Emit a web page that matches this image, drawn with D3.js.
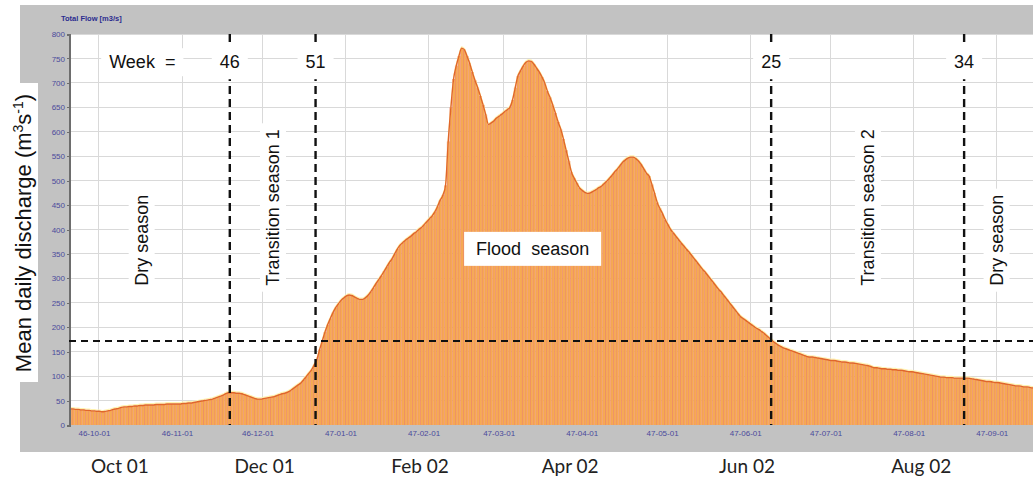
<!DOCTYPE html>
<meta charset="utf-8">
<style>
body { margin: 0; background: #fff; }
svg { display: block; font-family: "Liberation Sans", Arial, sans-serif; }
.axis text { font: 8px "Liberation Sans", sans-serif; fill: #4a4a9c; }
.axis path, .axis line { stroke: #6d6d6d; shape-rendering: crispEdges; }
.grid line { stroke: #d9d9d9; shape-rendering: crispEdges; }
.note { font-size: 18px; fill: #111; }
.month { font: 19px Lato, "Open Sans", sans-serif; fill: #222; }
</style>
<body>
<script src="https://cdn.jsdelivr.net/npm/d3@7"></script>
<script>
// daily mean flow, first value is 1946-09-20
var startDate = "1946-09-20";
var flow = [
  33,33,32,32,31,31,30,30,29,29,
  28,28,27,28,29,30,32,33,34,36,
  37,37,38,38,39,39,40,40,41,41,
  41,41,42,42,42,42,43,43,43,43,
  43,43,44,44,45,45,46,47,48,49,
  50,51,52,53,55,57,59,61,64,66,
  66,66,65,65,64,62,60,58,56,54,
  53,53,54,55,56,57,58,60,62,64,
  65,67,70,74,78,82,86,92,99,106,
  113,123,134,154,172,190,205,218,230,240,
  248,255,260,264,266,265,262,259,257,257,
  260,265,272,280,289,297,305,314,323,332,
  340,350,360,368,373,378,382,386,391,395,
  400,404,410,416,422,428,436,447,460,470,
  490,580,650,708,735,755,771,768,755,740,
  722,705,690,673,655,635,615,618,622,628,
  632,636,641,645,650,665,690,714,725,735,
  742,745,744,738,730,722,712,700,683,670,
  655,638,620,605,585,562,540,517,505,495,
  485,480,476,474,475,478,481,485,488,493,
  498,504,510,517,523,530,537,542,546,548,
  548,545,540,533,524,515,509,492,474,455,
  443,432,420,410,400,393,386,379,372,366,
  359,353,346,339,332,325,318,312,305,298,
  291,284,277,271,264,257,250,243,236,229,
  222,218,214,210,206,202,198,195,191,187,
  182,177,172,168,164,161,158,156,154,152,
  150,148,146,144,142,140,139,139,138,137,
  136,135,134,133,132,132,131,130,129,129,
  128,127,127,126,125,124,123,122,121,119,
  117,117,116,115,115,114,114,113,113,112,
  112,111,110,109,109,108,107,106,105,104,
  103,102,101,100,99,98,98,97,97,97,
  96,96,96,96,96,96,95,94,93,92,
  91,90,89,89,88,87,87,86,85,84,
  83,82,81,80,80,79,78,78,77,76,76
];

var yTicks = [0, 50, 100, 150, 200, 250, 300, 350, 400, 450, 500, 550, 600, 650, 700, 750, 800];
var monthTicks = ["1946-10-01", "1946-11-01", "1946-12-01", "1947-01-01", "1947-02-01", "1947-03-01",
                  "1947-04-01", "1947-05-01", "1947-06-01", "1947-07-01", "1947-08-01", "1947-09-01"];
var weekLines = [
  {week: "46", date: "1946-11-19"},
  {week: "51", date: "1946-12-21"},
  {week: "25", date: "1947-06-09"},
  {week: "34", date: "1947-08-20"}
];
var threshold = 172;
var seasons = [
  {label: "Dry season", date: "1946-10-17"},
  {label: "Transition season 1", date: "1946-12-05"},
  {label: "Transition season 2", date: "1947-07-15"},
  {label: "Dry season", date: "1947-09-01"}
];
var flood = {label: "Flood\u00a0 season", date: "1947-03-12", value: 361};
var monthLabels = [
  {label: "Oct 01", date: "1946-10-09"},
  {label: "Dec 01", date: "1946-12-02"},
  {label: "Feb 02", date: "1947-01-29"},
  {label: "Apr 02", date: "1947-03-26"},
  {label: "Jun 02", date: "1947-05-31"},
  {label: "Aug 02", date: "1947-08-04"}
];

var W = 1033, H = 481;
var pLeft = 69, pTop = 34, pBottom = 425;
var dayW = 2.68;
var parse = d3.utcParse("%Y-%m-%d");
var t0 = parse(startDate);
var t1 = d3.utcDay.offset(t0, flow.length);

var x = d3.scaleUtc().domain([t0, t1]).range([pLeft, pLeft + flow.length * dayW]);
var y = d3.scaleLinear().domain([0, 800]).range([pBottom, pTop]);

var days = flow.map(function(v, i) { return {date: d3.utcDay.offset(t0, i), v: v}; });

var svg = d3.select("body").append("svg").attr("width", W).attr("height", H);

// grey panel + white box for the axis title
svg.append("rect").attr("x", 20).attr("y", 5).attr("width", W - 20).attr("height", 447).attr("fill", "#c2c2c2");
svg.append("rect").attr("x", 0).attr("y", 83).attr("width", 38).attr("height", 299).attr("fill", "#fff");

svg.append("defs").append("clipPath").attr("id", "plot")
  .append("rect").attr("x", pLeft).attr("y", pTop).attr("width", W - pLeft).attr("height", pBottom - pTop);

var plot = svg.append("g").attr("clip-path", "url(#plot)");
plot.append("rect").attr("x", pLeft).attr("y", pTop).attr("width", W - pLeft).attr("height", pBottom - pTop).attr("fill", "#fff");

var grid = plot.append("g").attr("class", "grid");
grid.selectAll(".h").data(yTicks).enter().append("line")
  .attr("x1", pLeft).attr("x2", W).attr("y1", function(d) { return y(d); }).attr("y2", function(d) { return y(d); });
grid.selectAll(".v").data(monthTicks).enter().append("line")
  .attr("y1", pTop).attr("y2", pBottom)
  .attr("x1", function(d) { return Math.round(x(parse(d))); }).attr("x2", function(d) { return Math.round(x(parse(d))); });

// bars: orange with reddish seams
plot.append("g").selectAll("rect").data(days).enter().append("rect")
  .attr("x", function(d) { return x(d.date); })
  .attr("width", dayW)
  .attr("y", function(d) { return y(d.v); })
  .attr("height", function(d) { return y(0) - y(d.v); })
  .attr("fill", "#ec8a6a");
plot.append("g").selectAll("rect").data(days).enter().append("rect")
  .attr("x", function(d) { return x(d.date) + 0.8; })
  .attr("width", dayW - 0.8)
  .attr("y", function(d) { return y(d.v); })
  .attr("height", function(d) { return y(0) - y(d.v); })
  .attr("fill", "#f6aa52");

var line = d3.line()
  .x(function(d) { return x(d.date) + dayW / 2; })
  .y(function(d) { return y(d.v); })
  .curve(d3.curveMonotoneX);
plot.append("path").datum(days).attr("d", line)
  .attr("fill", "none").attr("stroke", "#fff2b0").attr("stroke-width", 1.2).attr("transform", "translate(0,-1.3)");
plot.append("path").datum(days).attr("d", line)
  .attr("fill", "none").attr("stroke", "#e0662a").attr("stroke-width", 1.4);

// y axis
svg.append("g").attr("class", "axis").attr("transform", "translate(" + pLeft + ",0)")
  .call(d3.axisLeft(y).tickValues(yTicks).tickSize(2).tickPadding(2));
svg.select(".axis .domain").attr("stroke-width", 2);

// x tick labels
svg.append("g").attr("class", "axis").selectAll("text").data(monthTicks).enter().append("text")
  .attr("x", function(d) { return x(parse(d)) - 4; })
  .attr("y", 436)
  .attr("text-anchor", "middle")
  .text(function(d) { return d3.utcFormat("%y-%m-%d")(parse(d)); });

svg.append("text").attr("x", 61).attr("y", 21)
  .attr("font-size", 7.5).attr("font-weight", "bold").attr("fill", "#2b2b8f")
  .text("Total Flow [m3/s]");

// threshold and week boundaries
svg.append("line")
  .attr("x1", pLeft).attr("x2", W).attr("y1", y(threshold)).attr("y2", y(threshold))
  .attr("stroke", "#111").attr("stroke-width", 2).attr("stroke-dasharray", "7,5");
svg.selectAll(".wk").data(weekLines).enter().append("line")
  .attr("x1", function(d) { return x(parse(d.date)); }).attr("x2", function(d) { return x(parse(d.date)); })
  .attr("y1", pTop).attr("y2", pBottom)
  .attr("stroke", "#111").attr("stroke-width", 2.4).attr("stroke-dasharray", "8,5");

function boxedText(g, text, pad, dy, anchor) {
  var t = g.append("text").attr("class", "note").attr("dy", dy).attr("text-anchor", anchor)
    .style("white-space", "pre").text(text);
  var b = t.node().getBBox();
  g.insert("rect", "text")
    .attr("x", b.x - pad[0]).attr("y", b.y - pad[1])
    .attr("width", b.width + 2 * pad[0]).attr("height", b.height + 2 * pad[1])
    .attr("fill", "#fff");
  return t;
}

// week labels
var wy = y(730);
var wg = svg.append("g").attr("transform", "translate(" + x(parse("1946-10-05")) + "," + wy + ")");
boxedText(wg, "Week  =", [8, 4], 0, "start");
weekLines.forEach(function(d) {
  var g = svg.append("g").attr("transform", "translate(" + x(parse(d.date)) + "," + wy + ")");
  boxedText(g, d.week, [8, 7], 0, "middle");
});

// seasons
seasons.forEach(function(s) {
  var g = svg.append("g").attr("transform", "translate(" + x(parse(s.date)) + "," + y(285) + ") rotate(-90)");
  boxedText(g, s.label, [6, 3], "0.35em", "start");
});

var fg = svg.append("g").attr("transform", "translate(" + x(parse(flood.date)) + "," + y(flood.value) + ")");
boxedText(fg, flood.label, [12, 7], "0.35em", "middle");

// y title
svg.append("text")
  .attr("transform", "translate(31,233) rotate(-90)")
  .attr("text-anchor", "middle")
  .attr("font-size", 22).attr("fill", "#111")
  .html("Mean daily discharge (m<tspan dy='-8' font-size='14'>3</tspan><tspan dy='8'>s</tspan><tspan dy='-8' font-size='14'>-1</tspan><tspan dy='8'>)</tspan>");

// month labels below
svg.append("g").selectAll("text").data(monthLabels).enter().append("text")
  .attr("class", "month")
  .attr("x", function(d) { return x(parse(d.date)); })
  .attr("y", 473)
  .attr("text-anchor", "middle")
  .text(function(d) { return d.label; });
</script>
